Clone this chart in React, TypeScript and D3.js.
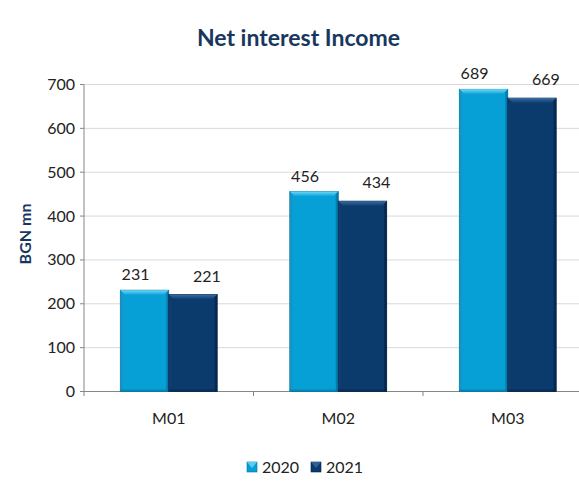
import React from "react";
import * as d3 from "d3";

const categories = ["M01", "M02", "M03"];
const seriesNames = ["2020", "2021"];
const values2020 = [231, 456, 689];
const values2021 = [221, 434, 669];
const yTicks = [0, 100, 200, 300, 400, 500, 600, 700];

const W = 579;
const H = 488;
const FONT = "Lato, 'Open Sans', sans-serif";
const NAVY = "#17375E";
const colors = [
  { main: "#07A0D6", top: "#6FD8F8", side: "#1C8FC0", dark: "#0676A0" },
  { main: "#0B3A6C", top: "#3A6CA3", side: "#123F70", dark: "#06254A" },
];
const labelDx = [-9, 14];
const labelDy = [-10, -13];

export default function App() {
  const series = [values2020, values2021];
  const x = d3.scaleBand<string>().domain(categories).range([84, 592.5]).paddingInner(0).paddingOuter(0);
  const y = d3.scaleLinear().domain([0, 700]).range([391.5, 84.5]);
  const inner = d3.scaleBand<string>().domain(seriesNames).range([0, x.bandwidth()]).paddingInner(0).paddingOuter(0.75);

  const bars: JSX.Element[] = [];
  categories.forEach((c, ci) => {
    seriesNames.forEach((s, si) => {
      const v = series[si][ci];
      const x0 = (x(c) || 0) + (inner(s) || 0);
      const bw = inner.bandwidth();
      const x1 = x0 + bw;
      const y0 = y(v);
      const y1 = y(0);
      const col = colors[si];
      const b = 5;
      bars.push(
        <g key={c + s}>
          <rect x={x0} y={y0} width={bw} height={y1 - y0} fill={col.main} stroke={col.dark} strokeWidth={0.8} />
          <polygon points={`${x0},${y0} ${x1},${y0} ${x1 - b},${y0 + b} ${x0 + b},${y0 + b}`} fill={`url(#top${si})`} />
          <polygon points={`${x0},${y0} ${x0 + 2.5},${y0 + 2.5} ${x0 + 2.5},${y1} ${x0},${y1}`} fill={col.side} opacity={0.7} />
          <polygon points={`${x1},${y0} ${x1 - 2.5},${y0 + 2.5} ${x1 - 2.5},${y1} ${x1},${y1}`} fill={col.dark} opacity={0.8} />
          <rect x={x0} y={y1 - 2} width={bw} height={2} fill={col.dark} opacity={0.6} />
          <text x={x0 + bw / 2 + labelDx[si]} y={y0 + labelDy[si]} textAnchor="middle" fontFamily={FONT} fontSize={16} fill="#222">
            {v}
          </text>
        </g>
      );
    });
  });

  return (
    <svg width={W} height={H} style={{ position: "absolute", left: 0, top: 0, background: "#fff" }}>
      <defs>
        {colors.map((col, i) => (
          <linearGradient key={i} id={`top${i}`} x1="0" y1="0" x2="0" y2="1">
            <stop offset="0" stopColor={col.top} />
            <stop offset="1" stopColor={col.main} />
          </linearGradient>
        ))}
      </defs>
      <text x={298.5} y={46} textAnchor="middle" fontFamily={FONT} fontWeight="bold" fontSize={23} fill={NAVY}>
        Net interest Income
      </text>
      {yTicks.map((t) => (
        <g key={t}>
          {t > 0 && <line x1={84} x2={W} y1={y(t)} y2={y(t)} stroke="#D9D9D9" strokeWidth={1} />}
          <line x1={80} x2={84} y1={y(t)} y2={y(t)} stroke="#868686" />
          <text x={75} y={y(t) + 5.5} textAnchor="end" fontFamily={FONT} fontSize={16} fill="#222">
            {t}
          </text>
        </g>
      ))}
      <line x1={84} x2={84} y1={84.5} y2={391.5} stroke="#868686" />
      <line x1={84} x2={W} y1={391.5} y2={391.5} stroke="#868686" />
      {x.domain().map((c) => (
        <g key={c}>
          <line x1={(x(c) || 0)} x2={(x(c) || 0)} y1={391.5} y2={396} stroke="#868686" />
          <text x={(x(c) || 0) + x.bandwidth() / 2} y={424} textAnchor="middle" fontFamily={FONT} fontSize={16} fill="#222">
            {c}
          </text>
        </g>
      ))}
      <line x1={x.range()[1]} x2={x.range()[1]} y1={391.5} y2={396} stroke="#868686" />
      {bars}
      <text transform="translate(31,234) rotate(-90)" textAnchor="middle" fontFamily={FONT} fontWeight="bold" fontSize={16} fill={NAVY}>
        BGN mn
      </text>
      {seriesNames.map((s, i) => {
        const lx = [247, 311][i];
        return (
          <g key={s}>
            <rect x={lx} y={462} width={10} height={10} fill={colors[i].main} stroke={colors[i].dark} strokeWidth={0.6} />
            <polygon points={`${lx},${462} ${lx + 10},${462} ${lx + 5},${468}`} fill={colors[i].top} opacity={0.8} />
            <text x={lx + 15} y={473} fontFamily={FONT} fontSize={16} fill="#222">
              {s}
            </text>
          </g>
        );
      })}
    </svg>
  );
}
